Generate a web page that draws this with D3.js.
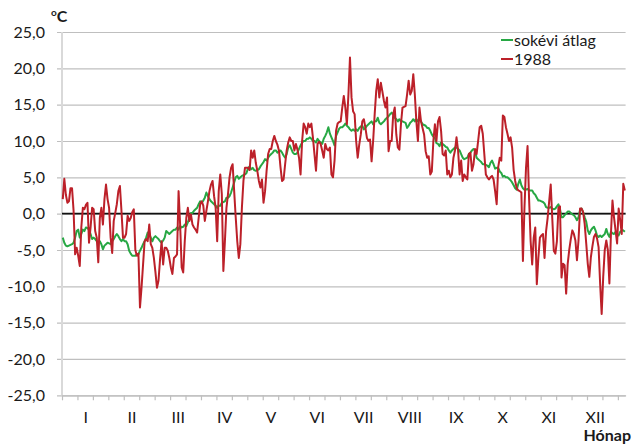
<!DOCTYPE html>
<html>
<head>
<meta charset="utf-8">
<script src="https://cdn.jsdelivr.net/npm/d3@7"></script>
<style>
  html, body { margin: 0; padding: 0; background: #fff; }
  svg { display: block; }
  text { font-family: Lato, "Open Sans", sans-serif; fill: #1a1a1a; }
</style>
</head>
<body>
<svg id="chart" width="636" height="447"></svg>
<script>
// ---- data ----
const monthLabels = ["I","II","III","IV","V","VI","VII","VIII","IX","X","XI","XII"];
const yTicks = [-25,-20,-15,-10,-5,0,5,10,15,20,25];
const seriesNames = ["sokévi átlag", "1988"];

// long-term daily average (sokévi átlag), day 1..365
const avgSeries = [
 -3.3,-4.0,-4.4,-4.5,-4.4,-4.3,-4.2,-4.0,-3.3,-2.4,
 -2.2,-3.3,-2.8,-2.2,-2.4,-1.9,-2.0,-2.2,-2.8,-3.5,
 -3.3,-3.5,-3.8,-4.0,-3.8,-4.2,-4.9,-4.4,-4.2,-4.0,
 -4.1,-4.2,-3.8,-3.5,-3.1,-2.8,-3.1,-3.5,-3.8,-3.5,
 -3.8,-3.8,-4.2,-5.1,-5.5,-5.8,-5.8,-5.8,-5.6,-5.6,
 -5.1,-4.7,-4.2,-3.8,-3.3,-2.6,-2.8,-3.3,-3.8,-3.3,
 -3.1,-3.3,-3.5,-3.8,-4.0,-3.7,-3.3,-2.4,-2.6,-2.8,
 -2.6,-2.4,-2.2,-2.2,-1.9,-2.2,-1.7,-1.9,-1.8,-1.5,
 -1.7,-1.2,-0.6,0.1,0.1,0.4,0.6,0.8,1.3,1.7,
 1.5,1.8,2.2,2.9,2.4,2.0,1.7,1.5,1.3,1.1,
 0.8,1.1,1.1,1.5,1.6,1.7,2.2,2.2,2.4,2.9,
 3.6,4.3,5.0,5.2,4.8,5.0,5.2,5.3,5.4,5.6,
 6.3,6.5,6.1,6.3,6.0,5.9,6.0,6.1,6.5,6.8,
 7.1,7.5,7.3,7.7,8.0,8.2,8.4,8.7,8.7,8.4,
 8.6,8.7,8.4,8.0,7.7,8.2,9.1,9.4,8.9,8.4,
 8.2,8.2,8.4,8.9,9.4,9.8,10.0,10.0,10.3,10.3,
 10.5,10.3,10.0,10.0,9.8,10.3,10.0,9.8,9.6,10.3,
 10.7,11.2,11.9,11.0,10.5,10.0,9.4,10.7,11.2,11.7,
 11.9,11.9,12.1,12.4,12.1,11.9,11.6,11.4,11.6,11.4,
 11.6,11.4,11.8,12.0,12.1,11.6,11.8,12.1,12.3,12.5,
 12.7,12.3,12.7,12.7,13.2,12.5,12.3,12.5,12.7,13.0,
 13.2,13.4,13.7,13.9,13.7,13.2,13.0,12.7,13.0,12.7,
 12.7,12.6,12.5,11.8,12.1,12.5,12.7,13.0,12.7,13.0,
 12.7,13.0,12.7,12.3,12.2,12.1,11.8,11.8,11.4,10.9,
 10.6,10.4,9.7,9.6,9.3,9.8,9.6,9.4,9.2,9.1,
 8.7,8.4,8.7,8.9,9.1,9.1,8.9,8.7,8.2,7.7,
 7.5,7.6,7.7,8.2,8.4,8.7,8.9,8.7,7.7,7.5,
 7.3,7.1,6.8,6.8,6.7,6.6,6.4,7.0,7.3,6.8,
 6.2,6.3,6.3,5.8,5.6,5.1,5.2,5.0,5.0,4.8,
 4.6,4.3,3.9,3.5,3.3,4.1,4.7,3.9,3.5,3.3,
 3.3,3.4,3.2,3.2,3.2,2.8,2.6,2.2,1.8,1.8,
 1.7,1.6,1.4,0.9,0.8,0.8,0.9,0.7,0.6,0.7,
 1.0,1.3,0.6,-0.5,-0.5,-0.2,0.0,0.3,0.3,0.1,
 -0.1,-0.2,-0.5,-0.9,-0.5,0.5,0.7,0.2,-0.5,-1.1,
 -2.3,-2.8,-2.3,-2.0,-1.8,-2.3,-3.0,-3.2,-3.0,-3.2,
 -3.0,-2.8,-2.1,-2.8,-3.2,-2.5,-2.7,-2.8,-2.5,-2.8,
 -3.0,-2.5,-2.3,-2.3,-2.5
];

// daily mean temperature in 1988
const series1988 = [
 2.0,4.8,2.6,1.5,1.7,3.5,3.5,0.4,-5.6,-4.7,
 -5.8,-7.2,-1.9,0.8,0.6,1.2,1.5,-4.0,-1.9,0.8,
 0.6,-2.4,-3.3,-6.7,-0.6,0.8,-1.5,2.0,4.0,2.0,
 0.8,-3.3,-5.4,-1.0,0.1,1.3,3.1,3.8,0.4,-3.3,
 -3.3,-2.8,-0.3,-1.0,-0.6,0.2,0.6,-5.0,-5.8,-5.5,
 -12.9,-10.2,-7.0,-3.8,-3.5,-3.8,-1.5,-4.2,-4.7,-6.1,
 -8.0,-10.2,-9.2,-6.3,-3.8,-7.0,-4.7,-4.7,-5.1,-6.1,
 -7.4,-8.3,-6.1,-5.9,-5.6,3.1,-1.5,-7.4,-8.1,-3.8,
 -0.6,0.8,-1.0,-0.1,-1.5,-1.9,-2.2,-2.6,-0.6,1.3,
 1.7,1.1,-1.0,0.4,1.7,3.1,4.0,4.5,2.4,0.8,
 -3.8,3.1,5.4,2.7,-7.9,-3.8,0.8,2.7,5.0,6.3,
 6.8,3.1,-0.5,-3.8,-6.1,-4.2,0.8,4.5,6.3,6.3,
 6.3,6.0,8.7,7.7,8.7,7.0,5.9,4.5,3.6,4.7,
 1.5,3.1,5.9,8.2,8.9,8.9,10.0,10.7,10.0,9.5,
 8.7,6.4,4.5,4.7,6.8,8.7,9.8,10.5,10.0,10.0,
 8.7,9.6,8.8,7.7,5.4,10.0,12.4,11.9,11.0,12.4,
 11.9,12.4,10.5,8.2,5.9,9.6,9.9,9.6,8.7,7.7,
 9.6,8.9,8.7,9.1,5.4,5.0,7.3,11.4,12.4,12.6,
 12.7,14.6,16.2,14.6,12.3,16.4,21.5,16.0,14.1,13.7,
 10.0,7.7,9.5,10.9,12.7,13.0,11.8,10.4,10.0,10.2,
 7.2,10.0,13.7,16.9,18.5,16.0,18.0,16.8,15.5,14.6,
 16.0,8.6,10.0,10.0,13.7,14.6,10.9,9.1,8.8,12.3,
 14.6,14.7,14.8,16.4,18.3,16.4,16.9,19.2,16.4,12.7,
 10.0,14.6,12.7,11.8,10.9,8.6,7.7,7.9,5.4,5.8,
 10.0,12.3,10.0,12.7,13.3,11.4,8.2,8.0,8.7,5.4,
 5.9,5.0,5.4,7.7,8.7,10.5,8.7,5.4,7.3,4.5,
 5.4,5.0,4.7,8.2,8.4,5.9,6.8,8.9,8.2,10.0,
 11.9,12.1,11.0,8.2,5.4,5.0,4.7,5.0,5.2,4.7,
 3.1,1.3,6.4,7.7,7.3,13.5,13.3,11.9,11.0,10.0,
 10.5,9.1,6.0,4.5,3.5,3.2,3.1,2.9,-6.5,0.8,
 6.3,9.3,2.0,-3.8,-7.0,-3.3,-1.9,-9.7,-6.1,-3.3,
 -3.0,-2.8,-6.1,-2.4,-0.6,1.7,4.0,-0.6,-5.1,-5.5,
 -3.8,0.8,1.0,-8.8,-6.9,-7.1,-11.0,-6.9,-5.0,-3.5,
 -2.3,-2.8,-3.7,-6.4,-3.7,0.7,0.7,0.2,-1.4,-4.1,
 -6.9,-8.7,-6.0,-4.5,-3.2,-2.8,-3.4,-4.6,-9.6,-13.8,
 -8.7,-5.0,-3.7,-5.0,-9.6,-2.8,1.8,-0.5,-2.3,-4.1,
 0.7,-0.9,-2.8,4.1,3.2
];

// ---- layout ----
const svg = d3.select("#chart");
const plotLeft = 62, plotRight = 625.6, plotTop = 32, plotBottom = 395.3;
const nDays = 365;

const x = d3.scaleLinear().domain([0, nDays]).range([plotLeft, plotRight]);
const y = d3.scaleLinear().domain([-25, 25]).range([plotBottom, plotTop]);

const fmt = v => d3.format(".1f")(v).replace(".", ",").replace("−", "-");

// gridlines + y labels
const gY = svg.append("g").attr("transform", `translate(${plotLeft - 5},0)`)
  .call(d3.axisLeft(y).tickValues(yTicks).tickSize(-(plotRight - plotLeft + 5)).tickPadding(12).tickFormat(fmt));
gY.select(".domain").remove();
gY.selectAll(".tick line").attr("stroke", "#bfbfbf").attr("stroke-width", 1.2);
gY.selectAll(".tick text").style("font-size", "16px").style("font-family", "Lato, sans-serif").attr("fill", "#1a1a1a");

// vertical axis line
svg.append("line").attr("x1", plotLeft).attr("x2", plotLeft).attr("y1", y(25)).attr("y2", y(-25))
  .attr("stroke", "#d9d9d9").attr("stroke-width", 2);

// x axis with ticks every 10 days
const gX = svg.append("g").attr("transform", `translate(0,${plotBottom})`)
  .call(d3.axisBottom(x).tickValues(d3.range(0, 361, 10)).tickSize(5).tickSizeOuter(0).tickFormat(""));
gX.select(".domain").attr("stroke", "#bfbfbf").attr("stroke-width", 1.2);
gX.selectAll(".tick line").attr("stroke", "#bfbfbf").attr("stroke-width", 1.2);

// month labels
const gM = svg.append("g").attr("transform", `translate(0,${plotBottom})`)
  .call(d3.axisBottom(x).tickValues(monthLabels.map((m, i) => 15 + 30 * i)).tickSize(0)
        .tickFormat((d, i) => monthLabels[i]));
gM.select(".domain").remove();
gM.selectAll(".tick text").attr("y", 28).attr("dy", null)
  .style("font-size", "16px").style("font-family", "Lato, sans-serif").attr("fill", "#1a1a1a");

// zero line
svg.append("line").attr("x1", plotLeft).attr("x2", plotRight).attr("y1", y(0)).attr("y2", y(0))
  .attr("stroke", "#111").attr("stroke-width", 1.6);

// series lines
const line = d3.line().x((d, i) => x(i + 0.5)).y(d => y(d));
svg.append("path").datum(avgSeries).attr("d", line)
  .attr("fill", "none").attr("stroke", "#27a844").attr("stroke-width", 2).attr("stroke-linejoin", "round");
svg.append("path").datum(series1988).attr("d", line)
  .attr("fill", "none").attr("stroke", "#bc2029").attr("stroke-width", 2).attr("stroke-linejoin", "round");

// unit label
const unit = svg.append("text").attr("x", 51).attr("y", 22).style("font-size", "16px").style("font-weight", "bold");
unit.append("tspan").text("o").style("font-size", "10px").attr("dy", "-6");
unit.append("tspan").text("C").attr("dy", "6");

// axis title
svg.append("text").attr("x", 631).attr("y", 441).attr("text-anchor", "end")
  .style("font-size", "16px").style("font-weight", "bold").text("Hónap");

// legend
const legColors = ["#27a844", "#bc2029"];
seriesNames.forEach((name, i) => {
  const ly = 40 + i * 19;
  svg.append("line").attr("x1", 501).attr("x2", 513).attr("y1", ly).attr("y2", ly)
    .attr("stroke", legColors[i]).attr("stroke-width", 2);
  svg.append("text").attr("x", 514).attr("y", ly + 5.5).style("font-size", "16px").text(name);
});
</script>
</body>
</html>
